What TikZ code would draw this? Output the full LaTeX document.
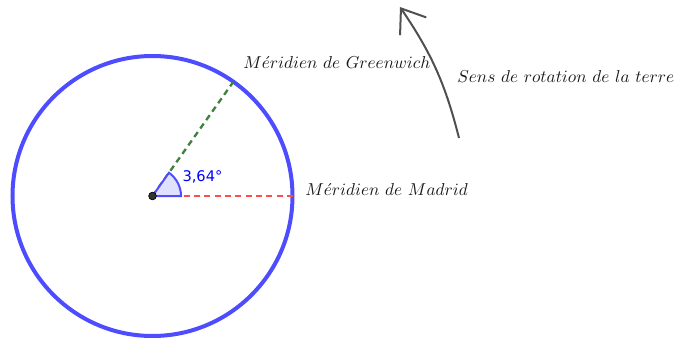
\RequirePackage{fix-cm}
\documentclass[tikz,border=0pt]{standalone}
\usepackage{fontspec}
\newfontfamily\ggbfont{DejaVu Sans}
\usepackage{tikz}
\usetikzlibrary{arrows.meta,calc}

\definecolor{ggbblue}{RGB}{77,77,255}
\definecolor{ggbgreen}{RGB}{64,128,64}
\definecolor{ggbred}{RGB}{255,77,77}
\definecolor{ggbgray}{RGB}{80,80,80}

\begin{document}
\begin{tikzpicture}[
    x=0.6pt, y=0.6pt,
    earth/.style={draw=ggbblue, line width=2.4pt},
    merid/.style={dashed, dash pattern=on 3.6pt off 2.6pt, line width=1.4pt},
    lbl/.style={inner sep=0pt, anchor=base west, text=black!90,
                font=\fontsize{10.35}{12}\selectfont},
    rot/.style={-{Straight Barb[length=13pt, width=19pt, line width=1.2pt]},
                ggbgray, line width=1.2pt},
  ]
  \useasboundingbox (0,0) rectangle (681,341);

  % ---------- earth and meridians ----------
  \coordinate (O) at (152.5,145);
  \draw[earth] (O) circle[radius=140];
  \coordinate (G) at ($(O)+(54.7:140)$);
  \coordinate (M) at ($(O)+(0:140)$);
  \draw[merid, ggbgreen] (O) -- (G);
  \draw[merid, ggbred] (O) -- (M);

  % ---------- angle ----------
  \fill[blue!12] (O) -- ++(0:28.5) arc[start angle=0, end angle=54.7, radius=28.5] -- cycle;
  \draw[ggbblue, line width=1.2pt] (O) -- ++(0:28.5) arc[start angle=0, end angle=54.7, radius=28.5] -- cycle;
  \node[text=blue, font=\ggbfont\fontsize{8.8}{10}\selectfont] (ang) at (202.5,164) {3,64°};
  \node[circle, fill=black!80, draw=black, inner sep=0pt, minimum size=4.6pt] (o) at (O) {};

  % ---------- labels ----------
  \node[lbl] (grw) at (243,272.7) {$M\acute{e}ridien\ de\ Greenwich$};
  \node[lbl] (mad) at (305,146) {$M\acute{e}ridien\ de\ Madrid$};
  \node[lbl] (sens) at (457,258.7) {$Sens\ de\ rotation\ de\ la\ terre$};

  % ---------- rotation arrow ----------
  \coordinate (r0) at (459,203);
  \coordinate (r1) at (400,334);
  \draw[rot] (r0) to[bend right=10] (r1);

\end{tikzpicture}
\end{document}
